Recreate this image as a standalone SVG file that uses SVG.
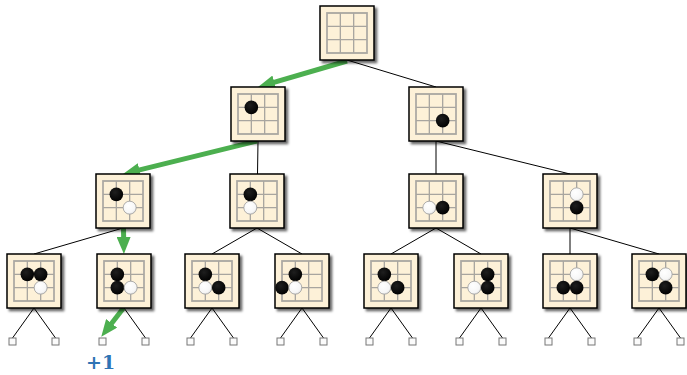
<svg xmlns="http://www.w3.org/2000/svg" xmlns:xlink="http://www.w3.org/1999/xlink" width="687" height="375" viewBox="0 0 687 375">
  <style>
    .edge { stroke: #000; stroke-width: 1; fill: none; }
    .best { stroke: #4caf4f; stroke-width: 5; fill: none; marker-end: url(#head); }
    .leaf { fill: #fbfbfb; stroke: #777; stroke-width: 1; }
    .frame { fill: #fdf1d8; stroke: #000; stroke-width: 1.5; filter: url(#shadow); }
    .gridout { fill: none; stroke: #cdc8be; stroke-width: 2; }
    .grid { stroke: #a8a59f; stroke-width: 1.3; fill: none; }
    .b { fill: url(#blackStone); }
    .w { fill: url(#whiteStone); stroke: #9a9a9a; stroke-width: 0.8; }
    .score { font-family: "DejaVu Serif", "Liberation Serif", serif; font-weight: bold; font-size: 19px; fill: #2e74b5; }
  </style>
  <defs>
    <filter id="shadow" x="-20%" y="-20%" width="150%" height="150%">
      <feDropShadow dx="2.5" dy="2.5" stdDeviation="1" flood-color="#000" flood-opacity="0.6"/>
    </filter>
    <radialGradient id="blackStone" cx="0.4" cy="0.35" r="0.7">
      <stop offset="0" stop-color="#1e1e1e"/>
      <stop offset="1" stop-color="#000"/>
    </radialGradient>
    <radialGradient id="whiteStone" cx="0.4" cy="0.35" r="0.75">
      <stop offset="0" stop-color="#fff"/>
      <stop offset="0.7" stop-color="#f6f6f6"/>
      <stop offset="1" stop-color="#d4d4d4"/>
    </radialGradient>
    <marker id="head" markerUnits="userSpaceOnUse" viewBox="0 0 17 14" refX="4" refY="7" markerWidth="17" markerHeight="14" orient="auto">
      <path d="M0,0 L17,7 L0,14 Z" fill="#4caf4f"/>
    </marker>
    <!-- empty 3x3 board: frame, grid border and inner lines -->
    <g id="board">
      <rect class="frame" x="0" y="0" width="54" height="54"/>
      <rect class="gridout" x="7" y="7" width="40" height="40"/>
      <path class="grid" d="M7,7 H47 V47 H7 Z M20.33,7 V47 M33.67,7 V47 M7,20.33 H47 M7,33.67 H47"/>
    </g>
  </defs>

  <rect width="687" height="375" fill="#fff"/>

  <g id="connectors">
    <line class="edge" x1="347" y1="60" x2="436" y2="87"/>
    <line class="edge" x1="258" y1="141" x2="257.5" y2="174"/>
    <line class="edge" x1="436" y1="141" x2="436" y2="174"/>
    <line class="edge" x1="436" y1="141" x2="570" y2="174"/>
    <line class="edge" x1="123" y1="228" x2="34" y2="254"/>
    <line class="edge" x1="257" y1="228" x2="212" y2="254"/>
    <line class="edge" x1="257" y1="228" x2="302" y2="254"/>
    <line class="edge" x1="436" y1="228" x2="391" y2="254"/>
    <line class="edge" x1="436" y1="228" x2="481" y2="254"/>
    <line class="edge" x1="570" y1="228" x2="570" y2="254"/>
    <line class="edge" x1="570" y1="228" x2="659" y2="254"/>
    <!-- edges to terminal positions -->
    <path class="edge" d="M34,308 L12.5,338 M34,308 L55.5,338"/>
    <path class="edge" d="M124,308 L145.5,338"/>
    <path class="edge" d="M212,308 L190.5,338 M212,308 L233.5,338"/>
    <path class="edge" d="M302,308 L280.5,338 M302,308 L323.5,338"/>
    <path class="edge" d="M391,308 L369.5,338 M391,308 L412.5,338"/>
    <path class="edge" d="M481,308 L459.5,338 M481,308 L502.5,338"/>
    <path class="edge" d="M570,308 L548.5,338 M570,308 L591.5,338"/>
    <path class="edge" d="M659,308 L637.5,338 M659,308 L680.5,338"/>
    <!-- highlighted playout path -->
    <line class="best" x1="347" y1="61" x2="270.5" y2="83.4"/>
    <line class="best" x1="257" y1="141" x2="135.6" y2="170.9"/>
    <line class="best" x1="123.5" y1="228" x2="123.7" y2="241"/>
    <line class="best" x1="123.5" y1="308" x2="109.2" y2="326.5"/>
  </g>

  <g id="leaves">
    <rect class="leaf" x="9" y="338" width="7" height="7"/>
    <rect class="leaf" x="52" y="338" width="7" height="7"/>
    <rect class="leaf" x="99" y="338" width="7" height="7"/>
    <rect class="leaf" x="142" y="338" width="7" height="7"/>
    <rect class="leaf" x="187" y="338" width="7" height="7"/>
    <rect class="leaf" x="230" y="338" width="7" height="7"/>
    <rect class="leaf" x="277" y="338" width="7" height="7"/>
    <rect class="leaf" x="320" y="338" width="7" height="7"/>
    <rect class="leaf" x="366" y="338" width="7" height="7"/>
    <rect class="leaf" x="409" y="338" width="7" height="7"/>
    <rect class="leaf" x="456" y="338" width="7" height="7"/>
    <rect class="leaf" x="499" y="338" width="7" height="7"/>
    <rect class="leaf" x="545" y="338" width="7" height="7"/>
    <rect class="leaf" x="588" y="338" width="7" height="7"/>
    <rect class="leaf" x="634" y="338" width="7" height="7"/>
    <rect class="leaf" x="677" y="338" width="7" height="7"/>
  </g>

  <g id="root" transform="translate(320,6)">
    <use xlink:href="#board" href="#board"/>
  </g>

  <g id="n1" transform="translate(231,87)">
    <use xlink:href="#board" href="#board"/>
    <circle class="b" cx="20.33" cy="20.33" r="6.8"/>
  </g>
  <g id="n2" transform="translate(409,87)">
    <use xlink:href="#board" href="#board"/>
    <circle class="b" cx="33.67" cy="33.67" r="6.8"/>
  </g>

  <g id="n3" transform="translate(96,174)">
    <use xlink:href="#board" href="#board"/>
    <circle class="b" cx="20.33" cy="20.33" r="6.8"/>
    <circle class="w" cx="33.67" cy="33.67" r="6.5"/>
  </g>
  <g id="n4" transform="translate(230,174)">
    <use xlink:href="#board" href="#board"/>
    <circle class="b" cx="20.33" cy="20.33" r="6.8"/>
    <circle class="w" cx="20.33" cy="33.67" r="6.5"/>
  </g>
  <g id="n5" transform="translate(409,174)">
    <use xlink:href="#board" href="#board"/>
    <circle class="w" cx="20.33" cy="33.67" r="6.5"/>
    <circle class="b" cx="33.67" cy="33.67" r="6.8"/>
  </g>
  <g id="n6" transform="translate(543,174)">
    <use xlink:href="#board" href="#board"/>
    <circle class="w" cx="33.67" cy="20.33" r="6.5"/>
    <circle class="b" cx="33.67" cy="33.67" r="6.8"/>
  </g>

  <g id="n7" transform="translate(7,254)">
    <use xlink:href="#board" href="#board"/>
    <circle class="b" cx="20.33" cy="20.33" r="6.8"/>
    <circle class="b" cx="33.67" cy="20.33" r="6.8"/>
    <circle class="w" cx="33.67" cy="33.67" r="6.5"/>
  </g>
  <g id="n8" transform="translate(97,254)">
    <use xlink:href="#board" href="#board"/>
    <circle class="b" cx="20.33" cy="20.33" r="6.8"/>
    <circle class="b" cx="20.33" cy="33.67" r="6.8"/>
    <circle class="w" cx="33.67" cy="33.67" r="6.5"/>
  </g>
  <g id="n9" transform="translate(185,254)">
    <use xlink:href="#board" href="#board"/>
    <circle class="b" cx="20.33" cy="20.33" r="6.8"/>
    <circle class="w" cx="20.33" cy="33.67" r="6.5"/>
    <circle class="b" cx="33.67" cy="33.67" r="6.8"/>
  </g>
  <g id="n10" transform="translate(275,254)">
    <use xlink:href="#board" href="#board"/>
    <circle class="b" cx="20.33" cy="20.33" r="6.8"/>
    <circle class="b" cx="7" cy="33.67" r="6.8"/>
    <circle class="w" cx="20.33" cy="33.67" r="6.5"/>
  </g>
  <g id="n11" transform="translate(364,254)">
    <use xlink:href="#board" href="#board"/>
    <circle class="b" cx="20.33" cy="20.33" r="6.8"/>
    <circle class="w" cx="20.33" cy="33.67" r="6.5"/>
    <circle class="b" cx="33.67" cy="33.67" r="6.8"/>
  </g>
  <g id="n12" transform="translate(454,254)">
    <use xlink:href="#board" href="#board"/>
    <circle class="b" cx="33.67" cy="20.33" r="6.8"/>
    <circle class="w" cx="20.33" cy="33.67" r="6.5"/>
    <circle class="b" cx="33.67" cy="33.67" r="6.8"/>
  </g>
  <g id="n13" transform="translate(543,254)">
    <use xlink:href="#board" href="#board"/>
    <circle class="w" cx="33.67" cy="20.33" r="6.5"/>
    <circle class="b" cx="20.33" cy="33.67" r="6.8"/>
    <circle class="b" cx="33.67" cy="33.67" r="6.8"/>
  </g>
  <g id="n14" transform="translate(632,254)">
    <use xlink:href="#board" href="#board"/>
    <circle class="b" cx="20.33" cy="20.33" r="6.8"/>
    <circle class="w" cx="33.67" cy="20.33" r="6.5"/>
    <circle class="b" cx="33.67" cy="33.67" r="6.8"/>
  </g>

  <text class="score" x="86" y="369">+1</text>
</svg>
